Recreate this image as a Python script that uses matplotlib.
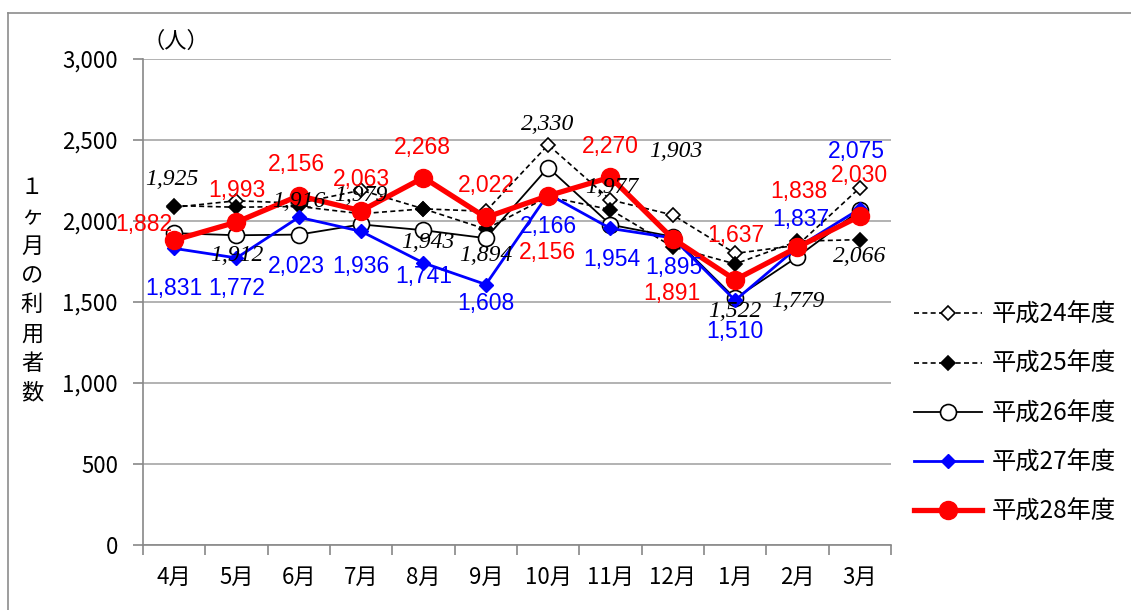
import matplotlib
matplotlib.use("Agg")
import matplotlib.pyplot as plt
from matplotlib.lines import Line2D

# ---------------- data ----------------
months = ['4月', '5月', '6月', '7月', '8月', '9月', '10月', '11月', '12月', '1月', '2月', '3月']
h24 = [2085, 2125, 2110, 2190, 2075, 2060, 2470, 2130, 2037, 1800, 1850, 2205]
h25 = [2095, 2085, 2090, 2045, 2075, 1950, 2150, 2070, 1840, 1735, 1875, 1885]
h26 = [1925, 1912, 1916, 1979, 1943, 1894, 2330, 1977, 1903, 1522, 1779, 2066]
h27 = [1831, 1772, 2023, 1936, 1741, 1608, 2166, 1954, 1895, 1510, 1837, 2075]
h28 = [1882, 1993, 2156, 2063, 2268, 2022, 2156, 2270, 1891, 1637, 1838, 2030]
series_names = ['平成24年度', '平成25年度', '平成26年度', '平成27年度', '平成28年度']
yticks = [0, 500, 1000, 1500, 2000, 2500, 3000]

# label offsets (pixels, dx, dy with dy positive upward)
off26 = [(-2, 54), (0, -20), (0, 33), (0, 29), (4, -12), (0, -17), (0, 43), (1, 37), (3, 85), (0, -13), (0, -45), (0, -46)]
off27 = [(0, -40), (0, -31), (-2, -49), (0, -35), (0, -14), (0, -19), (0, -32), (1, -31), (1, -29), (0, -31), (3, 28), (-3, 57)]
off28 = [(-30, 16), (0, 32), (-2, 31), (0, 31), (-1, 30), (0, 32), (-1, -57), (0, 31), (-1, -55), (1, 44), (1, 56), (0, 41)]

CJK = ['Noto Sans CJK JP', 'DejaVu Sans']

W, H = 1131, 610
fig = plt.figure(figsize=(W / 100, H / 100), dpi=100)
ax = fig.add_axes([143 / W, 1 - 545 / H, (891 - 143) / W, (545 - 59) / H])

x = list(range(len(months)))
dash = (3, 2)

ax.plot(x, h24, color='black', lw=1.2, ls=(0, dash), marker='D', ms=7.5,
        mfc='white', mec='black', mew=1.2, zorder=3, label=series_names[0])
ax.plot(x, h25, color='black', lw=1.2, ls=(0, dash), marker='D', ms=7.5,
        mfc='black', mec='black', mew=1.2, zorder=4, label=series_names[1])
ax.plot(x, h26, color='black', lw=1.3, marker='o', ms=11.5,
        mfc='white', mec='black', mew=1.2, zorder=5, label=series_names[2])
ax.plot(x, h27, color='#0000FF', lw=2.0, marker='D', ms=7,
        mfc='#0000FF', mec='#0000FF', zorder=6, label=series_names[3])
ax.plot(x, h28, color='#FF0000', lw=3.8, marker='o', ms=13,
        mfc='#FF0000', mec='#FF0000', zorder=7, label=series_names[4])

def fmt(v):
    return f"{v:,}"

for i in x:
    ax.annotate(fmt(h26[i]), (i, h26[i]), xytext=off26[i], textcoords='offset pixels',
                ha='center', va='center', fontsize=17, family='Liberation Serif',
                style='italic', color='black', zorder=10, annotation_clip=False)
    ax.annotate(fmt(h27[i]), (i, h27[i]), xytext=off27[i], textcoords='offset pixels',
                ha='center', va='center', fontsize=16.5, family='Liberation Sans',
                color='#0000FF', zorder=10, annotation_clip=False)
    ax.annotate(fmt(h28[i]), (i, h28[i]), xytext=off28[i], textcoords='offset pixels',
                ha='center', va='center', fontsize=16.5, family='Liberation Sans',
                color='#FF0000', zorder=11, annotation_clip=False)

ax.set_xlim(-0.5, len(months) - 0.5)
ax.set_ylim(0, 3000)
ax.set_yticks(yticks)
ax.set_yticklabels([fmt(v) for v in yticks], family=CJK, fontsize=16)
ax.set_xticks(x)
ax.set_xticklabels(months, family=CJK, fontsize=16)
ax.set_xticks([i - 0.5 for i in range(len(months) + 1)], minor=True)
ax.tick_params(axis='x', which='major', length=0, pad=15)
ax.tick_params(axis='x', which='minor', length=7, color='#888888', width=1.2)
ax.tick_params(axis='y', which='major', length=7, color='#888888', width=1.2, pad=11)

ax.yaxis.grid(True, color='#A6A6A6', lw=1.2)
ax.set_axisbelow(True)
for s in ['top', 'right']:
    ax.spines[s].set_visible(False)
for s in ['left', 'bottom']:
    ax.spines[s].set_color('#888888')
    ax.spines[s].set_linewidth(1.2)

# y label (vertical stacked)
fig.text(32 / W, 1 - 290 / H, '\n'.join('１ヶ月の利用者数'), ha='center', va='center',
         family=CJK, fontsize=16, linespacing=1.35)
fig.text(176 / W, 1 - 41 / H, '（人）', ha='center', va='center', family=CJK, fontsize=16)

# legend
handles, labels = ax.get_legend_handles_labels()
leg = fig.legend(handles, labels, loc='upper left', bbox_to_anchor=(914 / W, 1 - 302 / H),
                 frameon=False, prop={'family': CJK, 'size': 17.5}, handlelength=2.8,
                 handletextpad=0.4, labelspacing=0.95, borderpad=0, borderaxespad=0)

# outer border
fig.add_artist(Line2D([8 / W, 8 / W], [0, 1 - 13 / H], color='#8C8C8C', lw=1.2))
fig.add_artist(Line2D([8 / W, 1], [1 - 13 / H, 1 - 13 / H], color='#8C8C8C', lw=1.2))

fig.savefig('out.png', dpi=100)
